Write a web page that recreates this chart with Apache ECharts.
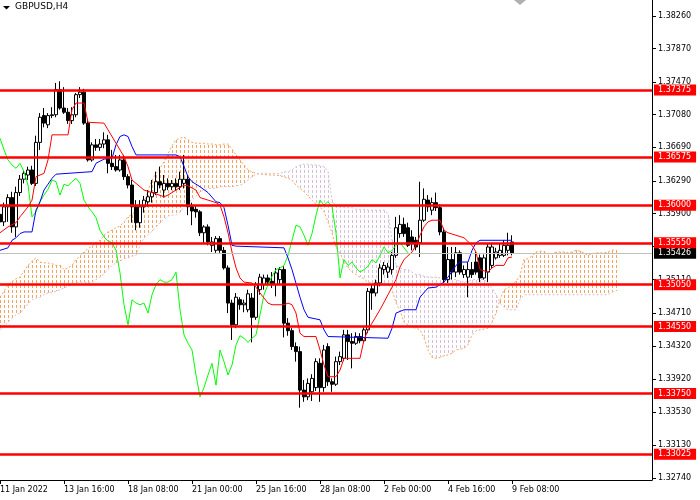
<!DOCTYPE html>
<html>
<head>
<meta charset="utf-8">
<script src="https://cdn.jsdelivr.net/npm/echarts@6/dist/echarts.min.js"></script>
<style>html,body{margin:0;padding:0;background:#fff}#c{width:700px;height:500px}</style>
</head>
<body>
<div id="c"></div>
<script>
// ---- data (GBPUSD H4) ----
const xTickLabels = ['11 Jan 2022','13 Jan 16:00','18 Jan 08:00','21 Jan 00:00','25 Jan 16:00','28 Jan 08:00','2 Feb 00:00','4 Feb 16:00','9 Feb 08:00'];
const yTickValues = [1.32740,1.33130,1.33530,1.33920,1.34320,1.34710,1.35110,1.35510,1.35900,1.36290,1.36690,1.37080,1.37470,1.37870,1.38260];
const levels = [1.37375,1.36575,1.36000,1.35550,1.35050,1.34550,1.33750,1.33025];
const lastPrice = 1.35426;

const open  = [1.3589,1.3580,1.3598,1.3609,1.3574,1.3615,1.3631,1.3636,1.3642,1.3626,1.3675,1.3707,1.3696,1.3707,1.3708,1.3738,1.3716,1.3711,1.3701,1.3708,
1.3732,1.3735,1.3698,1.3654,1.3672,1.3669,1.3673,1.3678,1.3650,1.3646,1.3642,1.3654,1.3634,1.3624,1.3598,1.3579,1.3598,1.3604,1.3610,1.3615,
1.3628,1.3618,1.3626,1.3622,1.3626,1.3622,1.3626,1.3631,1.3598,1.3595,1.3592,1.3567,1.3574,1.3552,1.3546,1.3560,1.3546,1.3525,1.3483,1.3457,
1.3487,1.3481,1.3475,1.3489,1.3466,1.3499,1.3505,1.3513,1.3509,1.3505,1.3511,1.3523,1.3459,1.3450,1.3431,1.3425,1.3379,1.3371,1.3377,1.3382,
1.3411,1.3382,1.3431,1.3389,1.3386,1.3413,1.3417,1.3445,1.3437,1.3435,1.3443,1.3438,1.3451,1.3500,1.3495,1.3507,1.3523,1.3520,1.3523,1.3540,
1.3566,1.3577,1.3573,1.3562,1.3558,1.3555,1.3582,1.3606,1.3594,1.3603,1.3597,1.3568,1.3511,1.3535,1.3520,1.3543,1.3517,1.3514,1.3523,1.3532,
1.3537,1.3513,1.3520,1.3528,1.3537,1.3540,1.3540,1.3546,1.3556];
const high  = [1.3597,1.3603,1.3613,1.3616,1.3622,1.3636,1.3642,1.3646,1.3647,1.3683,1.3710,1.3716,1.3710,1.3717,1.3746,1.3748,1.3741,1.3716,1.3717,1.3734,
1.3741,1.3739,1.3703,1.3675,1.3679,1.3679,1.3687,1.3684,1.3666,1.3660,1.3660,1.3660,1.3637,1.3630,1.3606,1.3606,1.3611,1.3618,1.3630,1.3640,
1.3646,1.3636,1.3632,1.3630,1.3632,1.3640,1.3660,1.3636,1.3603,1.3600,1.3594,1.3576,1.3577,1.3562,1.3563,1.3563,1.3550,1.3528,1.3487,1.3495,
1.3490,1.3487,1.3499,1.3495,1.3508,1.3518,1.3517,1.3517,1.3520,1.3525,1.3526,1.3527,1.3465,1.3453,1.3436,1.3431,1.3391,1.3393,1.3398,1.3417,
1.3417,1.3433,1.3435,1.3393,1.3419,1.3425,1.3451,1.3451,1.3447,1.3448,1.3447,1.3454,1.3501,1.3505,1.3511,1.3530,1.3532,1.3531,1.3544,1.3586,
1.3588,1.3585,1.3579,1.3570,1.3562,1.3628,1.3620,1.3612,1.3609,1.3615,1.3601,1.3573,1.3550,1.3550,1.3550,1.3546,1.3528,1.3532,1.3532,1.3544,
1.3541,1.3541,1.3554,1.3555,1.3549,1.3554,1.3558,1.3567,1.3564];
const low   = [1.3564,1.3575,1.3580,1.3567,1.3562,1.3611,1.3626,1.3630,1.3624,1.3623,1.3666,1.3693,1.3692,1.3704,1.3705,1.3714,1.3709,1.3697,1.3697,1.3705,
1.3728,1.3696,1.3652,1.3652,1.3665,1.3665,1.3668,1.3638,1.3642,1.3640,1.3640,1.3630,1.3620,1.3579,1.3570,1.3573,1.3591,1.3598,1.3603,1.3612,
1.3620,1.3609,1.3618,1.3618,1.3617,1.3618,1.3620,1.3588,1.3576,1.3585,1.3563,1.3555,1.3552,1.3544,1.3543,1.3543,1.3523,1.3471,1.3439,1.3453,
1.3475,1.3472,1.3472,1.3436,1.3463,1.3493,1.3499,1.3505,1.3501,1.3491,1.3505,1.3442,1.3444,1.3427,1.3413,1.3358,1.3365,1.3367,1.3366,1.3378,
1.3365,1.3377,1.3384,1.3377,1.3384,1.3409,1.3414,1.3415,1.3405,1.3433,1.3435,1.3435,1.3447,1.3475,1.3491,1.3503,1.3517,1.3513,1.3517,1.3537,
1.3561,1.3562,1.3550,1.3546,1.3546,1.3538,1.3580,1.3592,1.3588,1.3593,1.3564,1.3507,1.3507,1.3511,1.3514,1.3517,1.3513,1.3490,1.3513,1.3517,
1.3508,1.3511,1.3508,1.3525,1.3535,1.3537,1.3538,1.3540,1.3540];
const close = [1.3580,1.3598,1.3609,1.3574,1.3615,1.3631,1.3638,1.3642,1.3626,1.3675,1.3705,1.3698,1.3707,1.3708,1.3738,1.3716,1.3711,1.3701,1.3708,1.3732,
1.3735,1.3698,1.3654,1.3672,1.3669,1.3673,1.3678,1.3650,1.3646,1.3642,1.3654,1.3634,1.3624,1.3598,1.3579,1.3598,1.3606,1.3610,1.3615,1.3628,
1.3624,1.3626,1.3622,1.3626,1.3622,1.3631,1.3631,1.3598,1.3593,1.3592,1.3567,1.3574,1.3556,1.3556,1.3560,1.3546,1.3525,1.3483,1.3457,1.3490,
1.3481,1.3483,1.3494,1.3466,1.3505,1.3514,1.3513,1.3508,1.3505,1.3519,1.3523,1.3459,1.3450,1.3431,1.3425,1.3379,1.3371,1.3387,1.3393,1.3413,
1.3382,1.3427,1.3389,1.3386,1.3413,1.3419,1.3445,1.3437,1.3435,1.3443,1.3438,1.3451,1.3497,1.3495,1.3507,1.3525,1.3528,1.3526,1.3540,1.3573,
1.3577,1.3566,1.3552,1.3555,1.3550,1.3582,1.3607,1.3598,1.3603,1.3597,1.3568,1.3511,1.3535,1.3520,1.3543,1.3520,1.3523,1.3523,1.3517,1.3520,
1.3513,1.3537,1.3550,1.3550,1.3544,1.3546,1.3552,1.3552,1.35426];

// Tenkan-sen (red) and Kijun-sen (blue): [bar index, price] vertices
const tenkan = [[0,1.3567],[2,1.3574],[4,1.3579],[5,1.3586],[7,1.3598],[8,1.3606],[9,1.3634],[11,1.3638],[12,1.3654],[13,1.3684],[17,1.3684],[18,1.3714],[19,1.3722],[21,1.3722],[22,1.3699],[26,1.3698],[27,1.3690],[29,1.3674],[31,1.3658],[32,1.3646],[33,1.3630],[36,1.3618],[38,1.3615],[41,1.3610],[42,1.3612],[44,1.3618],[46,1.3624],[47,1.3623],[49,1.3618],[50,1.3609],[52,1.3606],[54,1.3603],[55,1.3600],[56,1.3586],[57,1.3567],[58,1.3544],[59,1.3525],[60,1.3513],[61,1.3508],[63,1.3507],[64,1.3502],[65,1.3495],[66,1.3489],[67,1.3483],[68,1.3481],[71,1.3481],[72,1.3483],[73,1.3481],[74,1.3471],[75,1.3447],[76,1.3443],[79,1.3443],[80,1.3427],[81,1.3409],[82,1.3395],[84,1.3395],[85,1.3403],[86,1.3417],[90,1.3417],[91,1.3439],[92,1.3451],[93,1.3459],[95,1.3475],[97,1.3493],[98,1.3502],[99,1.3511],[100,1.3526],[101,1.3535],[103,1.3544],[104,1.3552],[105,1.3564],[106,1.3574],[107,1.3580],[108,1.3582],[110,1.3582],[111,1.3570],[112,1.3567],[116,1.3561],[118,1.3552],[119,1.3544],[120,1.3523],[122,1.3520],[123,1.3525],[124,1.3528],[126,1.3528],[127,1.3537],[128,1.3538]];
const kijun = [[0,1.3546],[2,1.3549],[3,1.3558],[4,1.3561],[5,1.3566],[6,1.3568],[8,1.3568],[9,1.3594],[10,1.3604],[11,1.3618],[12,1.3625],[13,1.3632],[14,1.3637],[17,1.3638],[23,1.3640],[24,1.3650],[26,1.3655],[28,1.3656],[29,1.3672],[30,1.3682],[31,1.3684],[32,1.3682],[33,1.3670],[34,1.3660],[44,1.3660],[45,1.3658],[46,1.3646],[47,1.3634],[48,1.3628],[50,1.3622],[52,1.3615],[54,1.3604],[55,1.3603],[56,1.3597],[57,1.3576],[58,1.3552],[59,1.3551],[71,1.3549],[72,1.3537],[73,1.3523],[75,1.3490],[76,1.3475],[77,1.3466],[80,1.3463],[81,1.3451],[82,1.3443],[97,1.3441],[98,1.3453],[99,1.3471],[101,1.3475],[104,1.3475],[105,1.3490],[107,1.3501],[109,1.3502],[111,1.3508],[112,1.3514],[114,1.3528],[115,1.3532],[117,1.3532],[118,1.3546],[119,1.3555],[120,1.3558],[128,1.3558]];
// Chikou span (green), one value per bar from bar 0
const chikou = [1.3680,1.3666,1.3654,1.3648,1.3644,1.3650,1.3640,1.3624,1.3586,1.3592,1.3604,1.3612,1.3619,1.3630,1.3628,1.3612,1.3625,1.3623,1.3628,1.3632,
1.3626,1.3606,1.3598,1.3592,1.3585,1.3570,1.3562,1.3557,1.3555,1.3546,1.3519,1.3481,1.3457,1.3487,1.3483,1.3481,1.3483,1.3471,1.3493,1.3505,
1.3511,1.3508,1.3508,1.3511,1.3520,1.3475,1.3445,1.3435,1.3427,1.3397,1.3371,1.3382,1.3397,1.3411,1.3385,1.3427,1.3413,1.3397,1.3409,1.3433,
1.3444,1.3441,1.3436,1.3441,1.3445,1.3469,1.3493,1.3505,1.3515,1.3523,1.3525,1.3528,1.3540,1.3558,1.3576,1.3574,1.3564,1.3552,1.3566,1.3588,
1.3606,1.3600,1.3604,1.3598,1.3567,1.3513,1.3535,1.3528,1.3532,1.3525,1.3520,1.3523,1.3527,1.3535,1.3531,1.3540,1.3550,1.3543,1.3546,1.3552,
1.3555,1.3549,1.3543];
// Senkou span A / B (already shifted forward), one value per bar 0..154
const spanA = [1.3490,1.3497,1.3505,1.3509,1.3512,1.3514,1.3521,1.3528,1.3533,1.3537,1.3532,1.3531,1.3531,1.3530,1.3528,1.3528,1.3523,1.3525,1.3528,1.3535,
1.3539,1.3544,1.3548,1.3551,1.3555,1.3558,1.3564,1.3568,1.3570,1.3573,1.3575,1.3580,1.3586,1.3589,1.3593,1.3597,1.3603,1.3617,1.3630,1.3638,
1.3644,1.3652,1.3661,1.3671,1.3678,1.3680,1.3681,1.3678,1.3675,1.3674,1.3674,1.3674,1.3673,1.3673,1.3672,1.3672,1.3673,1.3673,1.3667,1.3660,
1.3654,1.3648,1.3642,1.3640,1.3638,1.3637,1.3637,1.3636,1.3636,1.3636,1.3635,1.3634,1.3632,1.3630,1.3624,1.3620,1.3616,1.3611,1.3606,1.3601,
1.3598,1.3592,1.3580,1.3567,1.3549,1.3543,1.3532,1.3525,1.3520,1.3517,1.3514,1.3512,1.3508,1.3507,1.3506,1.3505,1.3505,1.3505,1.3499,1.3483,
1.3474,1.3460,1.3457,1.3454,1.3453,1.3451,1.3441,1.3427,1.3418,1.3417,1.3418,1.3420,1.3421,1.3423,1.3427,1.3428,1.3429,1.3433,1.3445,1.3450,
1.3451,1.3452,1.3453,1.3460,1.3471,1.3487,1.3499,1.3501,1.3505,1.3509,1.3516,1.3535,1.3536,1.3539,1.3544,1.3545,1.3545,1.3542,1.3542,1.3544,
1.3544,1.3544,1.3543,1.3544,1.3546,1.3545,1.3543,1.3540,1.3542,1.3543,1.3543,1.3543,1.3544,1.3546,1.3547];
const spanB = [1.3451,1.3456,1.3460,1.3465,1.3469,1.3471,1.3476,1.3482,1.3487,1.3489,1.3490,1.3493,1.3495,1.3496,1.3497,1.3499,1.3501,1.3503,1.3505,1.3507,
1.3508,1.3508,1.3507,1.3508,1.3511,1.3514,1.3518,1.3523,1.3528,1.3531,1.3533,1.3536,1.3537,1.3539,1.3540,1.3552,1.3561,1.3564,1.3569,1.3574,
1.3579,1.3583,1.3587,1.3588,1.3588,1.3592,1.3598,1.3604,1.3606,1.3611,1.3616,1.3618,1.3620,1.3620,1.3620,1.3622,1.3622,1.3622,1.3622,1.3623,
1.3624,1.3626,1.3630,1.3634,1.3637,1.3638,1.3638,1.3638,1.3638,1.3638,1.3638,1.3640,1.3640,1.3642,1.3646,1.3648,1.3649,1.3649,1.3648,1.3648,
1.3647,1.3646,1.3640,1.3606,1.3598,1.3598,1.3597,1.3597,1.3597,1.3595,1.3595,1.3595,1.3594,1.3594,1.3594,1.3594,1.3594,1.3590,1.3558,1.3528,
1.3525,1.3523,1.3523,1.3520,1.3517,1.3517,1.3515,1.3514,1.3514,1.3514,1.3513,1.3513,1.3513,1.3512,1.3511,1.3509,1.3508,1.3509,1.3511,1.3511,
1.3511,1.3511,1.3507,1.3501,1.3493,1.3483,1.3478,1.3475,1.3475,1.3475,1.3487,1.3493,1.3493,1.3493,1.3493,1.3493,1.3493,1.3493,1.3493,1.3493,
1.3493,1.3493,1.3493,1.3493,1.3493,1.3493,1.3493,1.3493,1.3493,1.3493,1.3493,1.3493,1.3493,1.3496,1.3497];

// ---- chart ----
const SLOTS = 164;
const categories = Array.from({length: SLOTS}, (_, i) => String(i));
const candles = open.map((o, i) => [o, close[i], low[i], high[i]]);
const cloud = spanA.map((a, i) => [i, a, spanB[i]]);
const FONT = 'DejaVu Sans';
const DASH = 5;

const chart = echarts.init(document.getElementById('c'), null, {renderer: 'canvas'});
chart.setOption({
  animation: false,
  backgroundColor: '#ffffff',
  grid: {left: 0, right: 48, top: 0, bottom: 20, outerBoundsMode: 'none', containLabel: false},
  xAxis: {
    type: 'category', data: categories, boundaryGap: false,
    axisLine: {lineStyle: {color: '#000', width: 1}},
    axisTick: {length: 4, interval: (i) => i % 16 === 0 && i / 16 < xTickLabels.length, lineStyle: {color: '#000'}},
    axisLabel: {
      interval: (i) => i % 16 === 0 && i / 16 < xTickLabels.length,
      formatter: (v, i) => xTickLabels[i / 16] || '',
      align: 'left', margin: 6, color: '#000', fontSize: 8, fontFamily: FONT, hideOverlap: false
    },
    splitLine: {show: false}
  },
  yAxis: {
    type: 'value', position: 'right', min: 1.32716, max: 1.38451, scale: true,
    axisLine: {show: true, lineStyle: {color: '#000', width: 1}},
    axisTick: {show: true, length: 4, customValues: yTickValues, lineStyle: {color: '#000'}},
    axisLabel: {customValues: yTickValues, formatter: (v) => v.toFixed(5), color: '#000', fontSize: 8, fontFamily: FONT, margin: 6, hideOverlap: false},
    splitLine: {show: false}
  },
  series: [
    {
      type: 'custom', name: 'cloud', z: 1, clip: true,
      data: cloud, encode: {x: 0, y: [1, 2]},
      renderItem: (params, api) => {
        const idx = params.dataIndex;
        const a = spanA[idx], b = spanB[idx];
        const p1 = api.coord([idx, a]), p2 = api.coord([idx, b]);
        const x = Math.round(p1[0]) + 0.5;
        const top = Math.round(Math.min(p1[1], p2[1]));
        const bot = Math.round(Math.max(p1[1], p2[1]));
        return {type: 'line', shape: {x1: x, y1: top, x2: x, y2: bot},
          style: {stroke: a > b ? '#F4A460' : '#D8BFD8', lineWidth: 1, lineDash: [3, 2], lineDashOffset: top % DASH}};
      }
    },
    {type: 'line', name: 'SpanA', z: 1, data: spanA, symbol: 'none', lineStyle: {color: '#F4A460', width: 1, type: [2, 2]}},
    {type: 'line', name: 'SpanB', z: 1, data: spanB, symbol: 'none', lineStyle: {color: '#D8BFD8', width: 1, type: [2, 2]}},
    {
      type: 'candlestick', name: 'GBPUSD', z: 3, data: candles, barWidth: 3,
      itemStyle: {color: '#ffffff', color0: '#000000', borderColor: '#000000', borderColor0: '#000000', borderWidth: 1}
    },
    {type: 'line', name: 'Chikou', z: 4, data: chikou, symbol: 'none', lineStyle: {color: '#00FF00', width: 1}},
    {type: 'line', name: 'Kijun', z: 4, data: kijun, symbol: 'none', lineStyle: {color: '#0000FF', width: 1}},
    {type: 'line', name: 'Tenkan', z: 4, data: tenkan, symbol: 'none', lineStyle: {color: '#FF0000', width: 1}},
    {
      type: 'line', name: 'levels', z: 5, data: [], clip: false,
      markLine: {
        silent: true, symbol: ['none', 'none'], animation: false, precision: 5,
        data: [{yAxis: lastPrice, lineStyle: {color: '#C0C0C0', width: 1, type: 'solid'},
                label: {backgroundColor: '#000000'}}]
          .concat(levels.map(v => ({yAxis: v}))),
        lineStyle: {color: '#FF0000', width: 2.5, type: 'solid'},
        label: {position: 'end', distance: 2, formatter: (p) => Number(p.value).toFixed(5),
          color: '#fff', backgroundColor: '#FF0000', padding: [2, 5, 1, 4], fontSize: 8, fontFamily: FONT}
      }
    }
  ],
  graphic: [
    {type: 'polygon', shape: {points: [[3, 6], [10, 6], [6.5, 9.5]]}, style: {fill: '#000'}},
    {type: 'text', left: 15, top: 2, style: {text: 'GBPUSD,H4', fill: '#000', fontSize: 9, fontFamily: FONT}},
    {type: 'polygon', shape: {points: [[514, 0], [526, 0], [520, 5]]}, style: {fill: '#B0B0B0'}}
  ]
});
</script>
</body>
</html>
